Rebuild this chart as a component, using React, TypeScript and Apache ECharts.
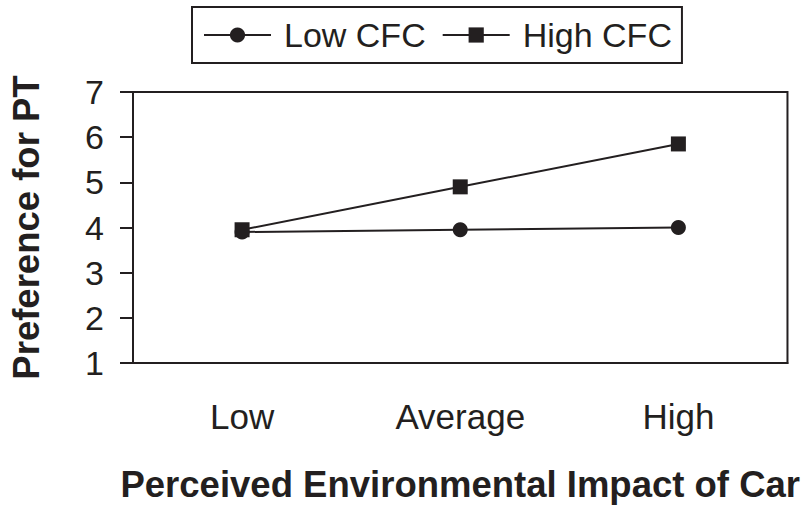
import React, { useEffect, useRef } from "react";
import * as echarts from "echarts";

const categories = ["Low", "Average", "High"];
const lowCFC = [3.9, 3.95, 4.0];
const highCFC = [3.95, 4.9, 5.85];
const yTicks = [1, 2, 3, 4, 5, 6, 7];

export default function App() {
  const ref = useRef<HTMLDivElement>(null);
  useEffect(() => {
    document.body.style.margin = "0";
    const chart = echarts.init(ref.current!, null, { renderer: "svg" });
    const font = "Liberation Sans";
    chart.setOption({
      animation: false,
      backgroundColor: "#fff",
      textStyle: { fontFamily: font, color: "#231f20" },
      legend: {
        left: 192,
        top: 7,
        orient: "horizontal",
        borderColor: "#231f20",
        borderWidth: 2,
        padding: [11, 10, 11, 11],
        itemGap: 16,
        itemWidth: 67,
        itemHeight: 19,
        textStyle: { fontSize: 34, color: "#231f20", fontFamily: font, padding: [0, 0, 0, 8] },
        data: ["Low CFC", "High CFC"],
      },
      grid: {
        left: 133,
        right: 13,
        top: 92,
        bottom: 142,
        show: true,
        borderColor: "#231f20",
        borderWidth: 2,
        backgroundColor: "transparent",
      },
      xAxis: {
        type: "category",
        data: categories,
        boundaryGap: true,
        axisLine: { lineStyle: { color: "#231f20", width: 2 } },
        axisTick: { show: false },
        axisLabel: { fontSize: 35, color: "#231f20", margin: 36, fontFamily: font },
        name: "Perceived Environmental Impact of Car",
        nameLocation: "middle",
        nameGap: 103,
        nameTextStyle: { fontSize: 36.5, fontWeight: "bold", color: "#231f20", fontFamily: font },
      },
      yAxis: {
        type: "value",
        min: yTicks[0],
        max: yTicks[yTicks.length - 1],
        interval: 1,
        splitLine: { show: false },
        axisLine: { show: true, lineStyle: { color: "#231f20", width: 2 } },
        axisTick: { show: true, length: 13, lineStyle: { color: "#231f20", width: 2 } },
        axisLabel: { fontSize: 34, color: "#231f20", margin: 29, fontFamily: font },
        name: "Preference for PT",
        nameLocation: "middle",
        nameGap: 88,
        nameTextStyle: { fontSize: 36.5, fontWeight: "bold", color: "#231f20", fontFamily: font },
      },
      series: [
        {
          name: "Low CFC",
          type: "line",
          data: lowCFC,
          symbol: "circle",
          symbolSize: 15,
          lineStyle: { color: "#231f20", width: 2 },
          itemStyle: { color: "#231f20" },
        },
        {
          name: "High CFC",
          type: "line",
          data: highCFC,
          symbol: "rect",
          symbolSize: 15,
          lineStyle: { color: "#231f20", width: 2 },
          itemStyle: { color: "#231f20" },
        },
      ],
    });
    return () => chart.dispose();
  }, []);
  return <div ref={ref} style={{ width: 803, height: 508 }} />;
}
